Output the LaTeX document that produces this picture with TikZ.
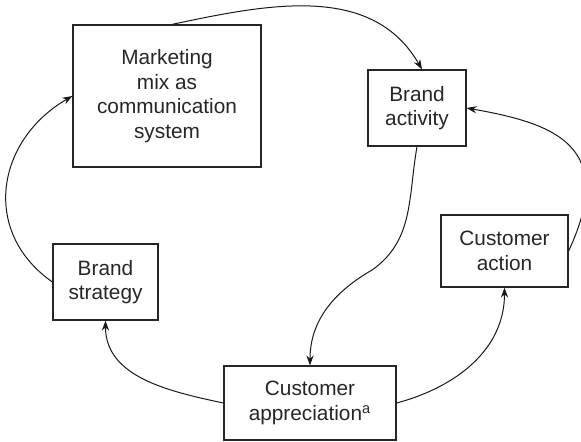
\documentclass[tikz,border=0pt]{standalone}
\usepackage{fontspec}
\setmainfont{Liberation Sans}
\usepackage{tikz}
\usetikzlibrary{arrows.meta}

\begin{document}
\begin{tikzpicture}
 [box node/.style={draw=black!85, line width=0.6pt, text=black!85, inner sep=0pt, align=center,
                   font=\fontsize{10.4}{12.3}\selectfont},
  link/.style={draw=black!90, line width=0.5pt, -{Stealth[length=5pt,width=3.6pt]}}]

\useasboundingbox (-83.5pt,48pt) rectangle (207pt,-172.5pt);

\node[box node, minimum width=94pt, minimum height=71pt] (mix) {Marketing\\mix as\\communication\\system};
\node[box node, minimum width=49pt, minimum height=38pt] (activity) [right of=mix, node distance=125pt, yshift=-6pt] {Brand\\activity};
\node[box node, minimum width=52.5pt, minimum height=38pt] (strategy) [below of=mix, node distance=93pt, xshift=-30.75pt] {Brand\\strategy};
\node[box node, minimum width=63.5pt, minimum height=36pt] (action) [below of=activity, node distance=71.5pt, xshift=43.75pt] {Customer\\action};
\node[box node, minimum width=86pt, minimum height=37pt] (apprec) [below of=activity, node distance=147.5pt, xshift=-53.5pt] {Customer\\appreciation\textsuperscript{a}};

\coordinate (bend) at ([xshift=-22.5pt, yshift=-81pt]activity.center);

\path
  ([xshift=2.5pt]mix.north) edge [link, out=12, in=120] ([xshift=2.5pt]activity.north)
  (strategy.west) edge [link, out=145, in=210, looseness=1.2] (mix.west)
  (apprec.west) edge [link, out=168, in=-90] (strategy.south)
  (apprec.east) edge [link, out=15, in=-90] (action.south)
  (action.east) edge [link, out=65, in=-10, out looseness=1.7, in looseness=1.3] (activity.east);

\draw[link] (activity.south) to[out=-100, in=35] (bend) to[out=-150, in=90] (apprec.north);

\end{tikzpicture}
\end{document}
